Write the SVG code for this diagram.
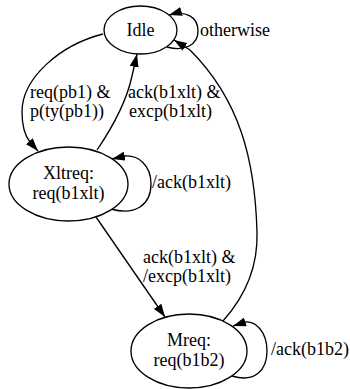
<svg xmlns="http://www.w3.org/2000/svg" width="350" height="389" viewBox="0 0 350 389">
  <style>
    .node ellipse { fill: #fff; stroke: #000; stroke-width: 1.33; }
    .edges path { fill: none; stroke: #000; stroke-width: 1.33; marker-end: url(#arrow); }
    .c { text-anchor: middle; }
  </style>
  <defs>
    <marker id="arrow" viewBox="0 0 13 9" refX="13" refY="4.5" markerWidth="13" markerHeight="9" markerUnits="userSpaceOnUse" orient="auto">
      <path d="M0,0 L13,4.5 L0,9 Z" fill="#000"/>
    </marker>
  </defs>

  <g class="edges">
    <!-- Idle self loop -->
    <path d="M167,47 C186,52 198,44 198,31 C198,17 186,10 169,15"/>
    <!-- Idle to Xltreq -->
    <path d="M103,34 C60,45 22,78 22,112 C22,127 26,137 30,142 L38,151"/>
    <!-- Xltreq to Idle -->
    <path d="M97,150 C112,128 126,104 132,76 L137,54"/>
    <!-- Xltreq self loop -->
    <path d="M111,209 C135,216 151,205 151,184 C151,165 138,155 125,156 L112,159"/>
    <!-- Xltreq to Mreq -->
    <path d="M96,217 L165,317"/>
    <!-- Mreq to Idle -->
    <path d="M223,321 C248,293 258,262 257,232 C255,160 240,100 190,50 L174,40"/>
    <!-- Mreq self loop -->
    <path d="M232,376 C255,383 267,370 267,351 C267,332 256,321 245,322 L233,326"/>
  </g>

  <g id="labels">
    <text x="200" y="36" font-family="Liberation Serif" font-size="18">otherwise</text>
    <text x="30" y="98" font-family="Liberation Serif" font-size="18">req(pb1) &amp;</text>
    <text x="30" y="117" font-family="Liberation Serif" font-size="18">p(ty(pb1))</text>
    <text x="128" y="98" font-family="Liberation Serif" font-size="18">ack(b1xlt) &amp;</text>
    <text x="129" y="117" font-family="Liberation Serif" font-size="18">excp(b1xlt)</text>
    <text x="152" y="188" font-family="Liberation Serif" font-size="18">/ack(b1xlt)</text>
    <text x="143" y="263" font-family="Liberation Serif" font-size="18">ack(b1xlt) &amp;</text>
    <text x="143" y="282" font-family="Liberation Serif" font-size="18">/excp(b1xlt)</text>
    <text x="271" y="355" font-family="Liberation Serif" font-size="18">/ack(b1b2)</text>
  </g>

  <g id="idle" class="node">
    <ellipse cx="140.5" cy="30" rx="36.5" ry="24"/>
    <text class="c" x="140.5" y="36" font-family="Liberation Serif" font-size="18">Idle</text>
  </g>
  <g id="xltreq" class="node">
    <ellipse cx="68.5" cy="184" rx="59.5" ry="37"/>
    <text class="c" x="68.5" y="179" font-family="Liberation Serif" font-size="18">Xltreq:</text>
    <text class="c" x="68.5" y="199" font-family="Liberation Serif" font-size="18">req(b1xlt)</text>
  </g>
  <g id="mreq" class="node">
    <ellipse cx="189" cy="351" rx="58" ry="37"/>
    <text class="c" x="189" y="346" font-family="Liberation Serif" font-size="18">Mreq:</text>
    <text class="c" x="189" y="366" font-family="Liberation Serif" font-size="18">req(b1b2)</text>
  </g>
</svg>
